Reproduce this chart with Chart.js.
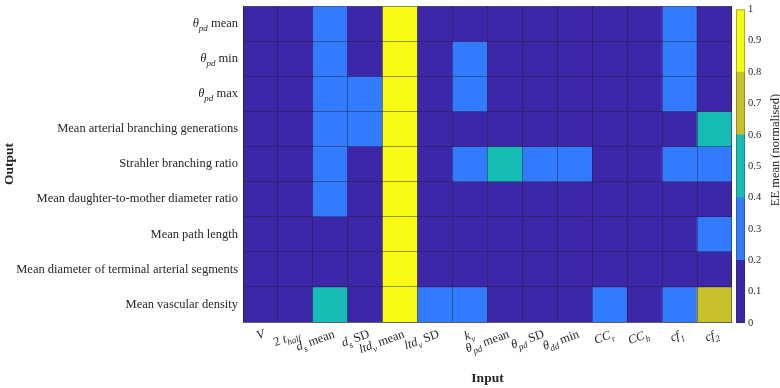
<!DOCTYPE html>
<html>
<head>
<meta charset="utf-8">
<script src="https://cdn.jsdelivr.net/npm/chart.js@4"></script>
<style>
  html, body { margin: 0; padding: 0; background: #fff; }
  #wrap { position: relative; width: 780px; height: 388px; }
  #heat { position: absolute; left: 0; top: 0; }
  #cbar { position: absolute; left: 690px; top: 0; }
</style>
</head>
<body>
<div id="wrap">
  <canvas id="heat" width="780" height="388"></canvas>
  <canvas id="cbar" width="90" height="388"></canvas>
</div>
<script>
// inputs (columns), TeX-ish: \it = italic on, \rm = italic off, _x / _{xy} = subscript
const inputs = ['\\itV', '2 \\itt_{half}', '\\itd_s\\rm mean', '\\itd_s\\rm SD', '\\itltd_v\\rm mean',
  '\\itltd_v\\rm SD', '\\itk_v', '\\itθ_{pd}\\rm mean', '\\itθ_{pd}\\rm SD', '\\itθ_{dd}\\rm min',
  '\\itCC_r', '\\itCC_h', '\\itcf_1', '\\itcf_2'];

// outputs (rows, top to bottom)
const outputs = ['\\itθ_{pd}\\rm mean', '\\itθ_{pd}\\rm min', '\\itθ_{pd}\\rm max',
  'Mean arterial branching generations', 'Strahler branching ratio',
  'Mean daughter-to-mother diameter ratio', 'Mean path length',
  'Mean diameter of terminal arterial segments', 'Mean vascular density'];

// EE mean (normalised), one array per output row
const thetaPdMean   = [0.1, 0.1, 0.3, 0.1, 1.0, 0.1, 0.1, 0.1, 0.1, 0.1, 0.1, 0.1, 0.3, 0.1];
const thetaPdMin    = [0.1, 0.1, 0.3, 0.1, 1.0, 0.1, 0.3, 0.1, 0.1, 0.1, 0.1, 0.1, 0.3, 0.1];
const thetaPdMax    = [0.1, 0.1, 0.3, 0.3, 1.0, 0.1, 0.3, 0.1, 0.1, 0.1, 0.1, 0.1, 0.3, 0.1];
const branchGens    = [0.1, 0.1, 0.3, 0.3, 1.0, 0.1, 0.1, 0.1, 0.1, 0.1, 0.1, 0.1, 0.1, 0.5];
const strahler      = [0.1, 0.1, 0.3, 0.1, 1.0, 0.1, 0.3, 0.5, 0.3, 0.3, 0.1, 0.1, 0.3, 0.3];
const daughterRatio = [0.1, 0.1, 0.3, 0.1, 1.0, 0.1, 0.1, 0.1, 0.1, 0.1, 0.1, 0.1, 0.1, 0.1];
const pathLength    = [0.1, 0.1, 0.1, 0.1, 1.0, 0.1, 0.1, 0.1, 0.1, 0.1, 0.1, 0.1, 0.1, 0.3];
const termDiameter  = [0.1, 0.1, 0.1, 0.1, 1.0, 0.1, 0.1, 0.1, 0.1, 0.1, 0.1, 0.1, 0.1, 0.1];
const vascDensity   = [0.1, 0.1, 0.5, 0.1, 1.0, 0.3, 0.3, 0.1, 0.1, 0.1, 0.3, 0.1, 0.3, 0.7];

const eeRows = [thetaPdMean, thetaPdMin, thetaPdMax, branchGens, strahler,
  daughterRatio, pathLength, termDiameter, vascDensity];

// colour bar
const bandEdges = [0, 0.2, 0.4, 0.6, 0.8, 1];
const bandColors = ['#3E26A8', '#337BFE', '#15BDB5', '#C9C12A', '#F8F915'];
const cbarTicks = [0, 0.1, 0.2, 0.3, 0.4, 0.5, 0.6, 0.7, 0.8, 0.9, 1];

const FONT = '"Liberation Serif", "Times New Roman", serif';
const TXT = '#262626';
const GRID = 'rgba(30,30,40,0.45)';

function colourFor(v) {
  for (let i = 0; i < bandColors.length; i++) {
    if (v < bandEdges[i + 1]) return bandColors[i];
  }
  return bandColors[bandColors.length - 1];
}

function parseTex(s) {
  const segs = [];
  let italic = false, buf = '', i = 0;
  const push = (t, sub) => { if (t) segs.push({ t, italic, sub: !!sub }); };
  while (i < s.length) {
    if (s.startsWith('\\it', i)) { push(buf); buf = ''; italic = true; i += 3; }
    else if (s.startsWith('\\rm', i)) { push(buf); buf = ''; italic = false; i += 3; }
    else if (s[i] === '_') {
      push(buf); buf = '';
      let sub;
      if (s[i + 1] === '{') { const j = s.indexOf('}', i); sub = s.slice(i + 2, j); i = j + 1; }
      else { sub = s[i + 1]; i += 2; }
      push(sub, true);
    } else { buf += s[i]; i++; }
  }
  push(buf);
  return segs;
}

// right-aligned at x, baseline at y
function drawTex(ctx, str, x, y, size) {
  const segs = parseTex(str);
  const fontOf = s => (s.italic ? 'italic ' : '') + (s.sub ? size * 0.72 : size) + 'px ' + FONT;
  ctx.textBaseline = 'alphabetic';
  ctx.textAlign = 'left';
  let w = 0;
  segs.forEach(s => { ctx.font = fontOf(s); s.w = ctx.measureText(s.t).width; w += s.w; });
  let cx = x - w;
  segs.forEach(s => {
    ctx.font = fontOf(s);
    ctx.fillText(s.t, cx, y + (s.sub ? size * 0.3 : 0));
    cx += s.w;
  });
}

const labelPlugin = {
  id: 'texLabels',
  afterDraw(chart) {
    const ctx = chart.ctx;
    const xs = chart.scales.x, ys = chart.scales.y;
    const size = 12.5;
    ctx.save();
    ctx.fillStyle = TXT;
    outputs.forEach((lab, r) => {
      drawTex(ctx, lab, chart.chartArea.left - 5, ys.getPixelForValue(r + 0.5) + 3.3, size);
    });
    inputs.forEach((lab, c) => {
      ctx.save();
      ctx.translate(xs.getPixelForValue(c) + 5, chart.chartArea.bottom + 15);
      ctx.rotate(-20 * Math.PI / 180);
      drawTex(ctx, lab, 0, 0, size);
      ctx.restore();
    });
    ctx.restore();
  }
};

new Chart(document.getElementById('heat'), {
  type: 'bar',
  data: {
    labels: inputs,
    datasets: eeRows.map((row, r) => ({
      label: outputs[r],
      data: row.map(() => 1),
      backgroundColor: row.map(colourFor),
      borderWidth: 0,
      barPercentage: 1,
      categoryPercentage: 1
    }))
  },
  options: {
    responsive: false,
    animation: false,
    layout: { padding: { top: 6, right: 48, left: 0, bottom: 0 } },
    plugins: { legend: { display: false }, tooltip: { enabled: false } },
    scales: {
      x: {
        stacked: true,
        ticks: { display: false },
        grid: { offset: true, color: GRID, lineWidth: 1, drawTicks: false, z: 1 },
        border: { display: true, color: GRID, z: 1 },
        title: { display: true, text: 'Input', color: TXT, padding: { top: 0, bottom: 1.6 },
          font: { family: FONT, size: 13.5, weight: 'bold' } },
        afterFit(scale) { scale.height = 66; }
      },
      y: {
        stacked: true,
        reverse: true,
        min: 0,
        max: outputs.length,
        ticks: { display: false, stepSize: 1 },
        grid: { color: GRID, lineWidth: 1, drawTicks: false, z: 1 },
        border: { display: true, color: GRID, z: 1 },
        title: { display: true, text: 'Output', color: TXT, padding: { top: 1.6, bottom: 0 },
          font: { family: FONT, size: 13.5, weight: 'bold' } },
        afterFit(scale) { scale.width = 243; }
      }
    }
  },
  plugins: [labelPlugin]
});

const cbarPlugin = {
  id: 'cbarDecor',
  afterDraw(chart) {
    const ctx = chart.ctx, a = chart.chartArea;
    ctx.save();
    ctx.strokeStyle = 'rgba(38,38,38,0.35)';
    ctx.lineWidth = 1;
    ctx.strokeRect(a.left + 0.5, a.top + 0.5, a.right - a.left - 1, a.bottom - a.top - 1);
    ctx.translate(86, 150);
    ctx.rotate(-Math.PI / 2);
    ctx.fillStyle = TXT;
    ctx.font = '12.5px ' + FONT;
    ctx.textAlign = 'center';
    ctx.textBaseline = 'middle';
    ctx.fillText('EE mean (normalised)', 0, 0);
    ctx.restore();
  }
};

new Chart(document.getElementById('cbar'), {
  type: 'bar',
  data: {
    labels: [''],
    datasets: bandColors.map((c, i) => ({
      data: [bandEdges[i + 1] - bandEdges[i]],
      backgroundColor: c,
      borderWidth: 0,
      barPercentage: 1,
      categoryPercentage: 1
    }))
  },
  options: {
    responsive: false,
    animation: false,
    layout: { padding: { top: 5, right: 0, left: 46, bottom: 65 } },
    plugins: { legend: { display: false }, tooltip: { enabled: false } },
    scales: {
      x: { stacked: true, display: false },
      y: {
        stacked: true,
        position: 'right',
        min: 0,
        max: 1,
        afterBuildTicks(axis) { axis.ticks = cbarTicks.map(v => ({ value: v })); },
        ticks: { color: TXT, padding: 3, font: { family: FONT, size: 10.5 },
          callback: v => String(+v.toFixed(1)) },
        grid: { display: false, drawTicks: false },
        border: { display: false },
        afterFit(scale) { scale.width = 35; }
      }
    }
  },
  plugins: [cbarPlugin]
});
</script>
</body>
</html>
